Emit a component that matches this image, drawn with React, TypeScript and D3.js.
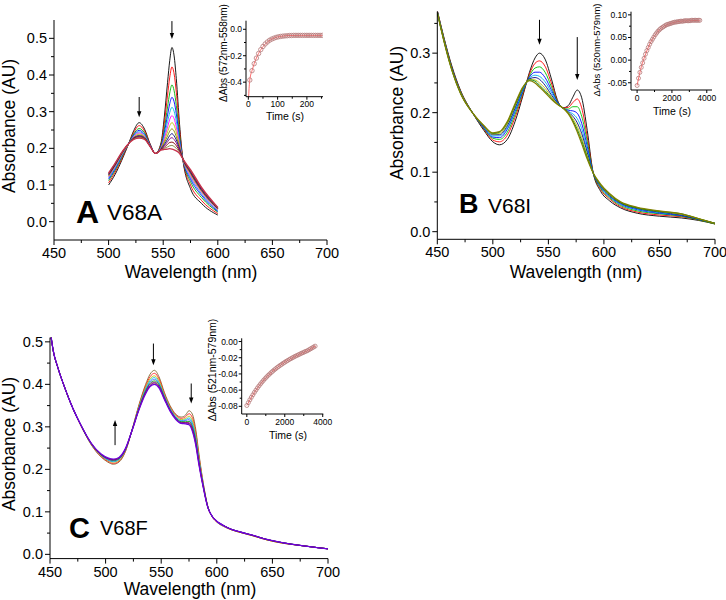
import React from "react";
import * as d3 from "d3";

// ---------------- DATA ----------------
// Panel A (V68A)
const WAVELENGTH_A = [500, 506, 512, 518, 523, 528, 533, 538, 543, 548, 551, 554, 556, 558, 560, 562, 565, 568, 575, 585, 600];
const SPECTRA_A = [
  [0.100, 0.129, 0.167, 0.210, 0.248, 0.270, 0.252, 0.212, 0.186, 0.215, 0.285, 0.380, 0.440, 0.475, 0.452, 0.390, 0.265, 0.170, 0.090, 0.050, 0.018],
  [0.106, 0.135, 0.171, 0.210, 0.243, 0.262, 0.247, 0.211, 0.186, 0.211, 0.268, 0.345, 0.394, 0.422, 0.403, 0.353, 0.250, 0.170, 0.100, 0.058, 0.022],
  [0.112, 0.140, 0.175, 0.211, 0.239, 0.254, 0.242, 0.209, 0.186, 0.208, 0.252, 0.313, 0.351, 0.373, 0.357, 0.317, 0.236, 0.170, 0.109, 0.066, 0.026],
  [0.116, 0.144, 0.178, 0.211, 0.236, 0.249, 0.238, 0.209, 0.186, 0.205, 0.242, 0.291, 0.322, 0.339, 0.327, 0.294, 0.226, 0.170, 0.116, 0.072, 0.028],
  [0.120, 0.147, 0.180, 0.211, 0.234, 0.245, 0.236, 0.208, 0.186, 0.203, 0.233, 0.273, 0.298, 0.312, 0.301, 0.274, 0.218, 0.170, 0.121, 0.076, 0.030],
  [0.122, 0.150, 0.182, 0.211, 0.232, 0.242, 0.233, 0.207, 0.186, 0.202, 0.226, 0.258, 0.279, 0.289, 0.281, 0.258, 0.212, 0.170, 0.125, 0.080, 0.032],
  [0.124, 0.152, 0.183, 0.211, 0.230, 0.239, 0.231, 0.207, 0.186, 0.200, 0.220, 0.245, 0.262, 0.270, 0.263, 0.244, 0.207, 0.170, 0.129, 0.083, 0.034],
  [0.126, 0.154, 0.185, 0.212, 0.229, 0.236, 0.230, 0.206, 0.186, 0.199, 0.215, 0.234, 0.247, 0.253, 0.247, 0.232, 0.202, 0.171, 0.132, 0.085, 0.035],
  [0.128, 0.155, 0.186, 0.212, 0.228, 0.234, 0.228, 0.206, 0.186, 0.198, 0.210, 0.225, 0.235, 0.240, 0.234, 0.223, 0.198, 0.171, 0.134, 0.087, 0.036],
  [0.129, 0.157, 0.187, 0.212, 0.227, 0.233, 0.227, 0.206, 0.186, 0.197, 0.207, 0.218, 0.226, 0.229, 0.224, 0.215, 0.195, 0.171, 0.136, 0.089, 0.037],
  [0.131, 0.158, 0.188, 0.212, 0.226, 0.231, 0.226, 0.205, 0.186, 0.196, 0.203, 0.211, 0.216, 0.217, 0.214, 0.207, 0.192, 0.171, 0.138, 0.091, 0.038],
  [0.132, 0.159, 0.188, 0.212, 0.225, 0.230, 0.225, 0.205, 0.186, 0.196, 0.200, 0.204, 0.207, 0.208, 0.205, 0.200, 0.189, 0.171, 0.140, 0.093, 0.038],
  [0.133, 0.160, 0.189, 0.212, 0.224, 0.228, 0.224, 0.205, 0.186, 0.195, 0.197, 0.198, 0.199, 0.198, 0.196, 0.193, 0.186, 0.171, 0.142, 0.094, 0.039],
];
const COLORS_A = ["#000000", "#ff0000", "#00b000", "#0000ff", "#00c0e0", "#ff00ff", "#c0c000", "#808000", "#000080", "#800080", "#800000", "#808040", "#c8324e"];

// Panel B (V68I)
const WAVELENGTH_B = [450, 456, 463, 471, 482, 492, 500, 506, 513, 520, 527, 533, 538, 542, 547, 553, 558, 563, 568, 572, 576, 580, 585, 590, 597, 605, 615, 630, 650, 670, 685, 700];
const SPECTRA_B = [
  [0.372, 0.326, 0.279, 0.237, 0.199, 0.170, 0.151, 0.146, 0.155, 0.185, 0.228, 0.268, 0.292, 0.300, 0.290, 0.255, 0.222, 0.208, 0.212, 0.226, 0.238, 0.225, 0.170, 0.102, 0.068, 0.052, 0.040, 0.031, 0.026, 0.023, 0.019, 0.013],
  [0.371, 0.325, 0.277, 0.236, 0.199, 0.172, 0.154, 0.151, 0.162, 0.192, 0.231, 0.265, 0.283, 0.287, 0.278, 0.248, 0.220, 0.208, 0.209, 0.217, 0.223, 0.208, 0.159, 0.102, 0.071, 0.055, 0.042, 0.033, 0.028, 0.025, 0.020, 0.013],
  [0.370, 0.324, 0.276, 0.235, 0.199, 0.173, 0.157, 0.155, 0.167, 0.197, 0.234, 0.262, 0.275, 0.277, 0.268, 0.242, 0.219, 0.208, 0.206, 0.210, 0.210, 0.194, 0.151, 0.101, 0.073, 0.057, 0.044, 0.035, 0.030, 0.026, 0.020, 0.013],
  [0.370, 0.323, 0.275, 0.234, 0.199, 0.174, 0.159, 0.158, 0.172, 0.202, 0.236, 0.260, 0.268, 0.268, 0.259, 0.237, 0.218, 0.208, 0.204, 0.203, 0.199, 0.182, 0.143, 0.101, 0.075, 0.059, 0.046, 0.037, 0.031, 0.027, 0.021, 0.014],
  [0.369, 0.322, 0.274, 0.234, 0.199, 0.175, 0.161, 0.161, 0.175, 0.205, 0.238, 0.258, 0.263, 0.261, 0.252, 0.233, 0.217, 0.208, 0.202, 0.198, 0.190, 0.173, 0.137, 0.101, 0.076, 0.060, 0.047, 0.038, 0.032, 0.028, 0.021, 0.014],
  [0.369, 0.321, 0.274, 0.233, 0.199, 0.176, 0.163, 0.163, 0.178, 0.208, 0.240, 0.257, 0.259, 0.256, 0.246, 0.229, 0.216, 0.208, 0.201, 0.194, 0.183, 0.165, 0.133, 0.100, 0.077, 0.061, 0.048, 0.039, 0.033, 0.028, 0.021, 0.014],
  [0.369, 0.321, 0.273, 0.233, 0.199, 0.177, 0.164, 0.165, 0.181, 0.211, 0.241, 0.256, 0.255, 0.250, 0.241, 0.226, 0.215, 0.208, 0.200, 0.190, 0.177, 0.158, 0.128, 0.100, 0.078, 0.062, 0.049, 0.040, 0.034, 0.029, 0.022, 0.014],
  [0.368, 0.320, 0.272, 0.232, 0.199, 0.178, 0.165, 0.167, 0.183, 0.213, 0.242, 0.255, 0.253, 0.246, 0.237, 0.224, 0.214, 0.208, 0.199, 0.187, 0.172, 0.153, 0.125, 0.100, 0.079, 0.063, 0.049, 0.040, 0.034, 0.030, 0.022, 0.014],
  [0.368, 0.320, 0.272, 0.232, 0.199, 0.178, 0.166, 0.168, 0.185, 0.215, 0.243, 0.254, 0.250, 0.243, 0.234, 0.222, 0.214, 0.208, 0.198, 0.185, 0.168, 0.148, 0.122, 0.100, 0.080, 0.064, 0.050, 0.041, 0.035, 0.030, 0.022, 0.014],
];
const COLORS_B = ["#000000", "#ff0000", "#00c000", "#0000ff", "#00b0f0", "#000080", "#c0c000", "#008000", "#808000"];

// Panel C (V68F)
const WAVELENGTH_C = [450, 453, 457, 463, 470, 478, 487, 496, 502, 507, 512, 518, 524, 530, 536, 540, 544, 548, 553, 558, 563, 568, 572, 575, 578, 581, 584, 588, 592, 596, 600, 606, 613, 622, 632, 645, 660, 675, 690, 700];
const SPECTRA_C = [
  [0.530, 0.478, 0.440, 0.394, 0.347, 0.302, 0.258, 0.229, 0.217, 0.212, 0.217, 0.243, 0.295, 0.352, 0.400, 0.424, 0.433, 0.418, 0.380, 0.350, 0.330, 0.323, 0.328, 0.338, 0.330, 0.295, 0.235, 0.165, 0.112, 0.088, 0.076, 0.066, 0.058, 0.051, 0.044, 0.034, 0.026, 0.021, 0.016, 0.013],
  [0.530, 0.478, 0.440, 0.394, 0.347, 0.302, 0.259, 0.230, 0.219, 0.214, 0.219, 0.244, 0.295, 0.350, 0.396, 0.418, 0.426, 0.413, 0.377, 0.347, 0.328, 0.320, 0.324, 0.331, 0.322, 0.288, 0.230, 0.163, 0.112, 0.088, 0.076, 0.066, 0.058, 0.051, 0.044, 0.034, 0.026, 0.021, 0.016, 0.013],
  [0.530, 0.478, 0.440, 0.394, 0.347, 0.302, 0.260, 0.232, 0.221, 0.217, 0.221, 0.246, 0.294, 0.347, 0.392, 0.413, 0.420, 0.408, 0.374, 0.345, 0.325, 0.317, 0.320, 0.325, 0.315, 0.281, 0.226, 0.161, 0.111, 0.088, 0.077, 0.067, 0.058, 0.051, 0.044, 0.034, 0.026, 0.021, 0.016, 0.013],
  [0.530, 0.478, 0.440, 0.394, 0.347, 0.303, 0.260, 0.233, 0.222, 0.218, 0.223, 0.247, 0.294, 0.346, 0.389, 0.409, 0.416, 0.404, 0.372, 0.343, 0.324, 0.315, 0.317, 0.321, 0.309, 0.276, 0.222, 0.160, 0.111, 0.089, 0.077, 0.067, 0.059, 0.052, 0.045, 0.035, 0.027, 0.021, 0.016, 0.013],
  [0.530, 0.478, 0.440, 0.394, 0.347, 0.303, 0.261, 0.233, 0.223, 0.220, 0.224, 0.247, 0.294, 0.344, 0.386, 0.405, 0.412, 0.401, 0.370, 0.342, 0.322, 0.313, 0.315, 0.317, 0.304, 0.271, 0.219, 0.159, 0.111, 0.089, 0.077, 0.067, 0.059, 0.052, 0.045, 0.035, 0.027, 0.021, 0.016, 0.013],
  [0.530, 0.478, 0.440, 0.394, 0.347, 0.303, 0.261, 0.234, 0.225, 0.221, 0.225, 0.248, 0.294, 0.343, 0.384, 0.402, 0.408, 0.399, 0.368, 0.340, 0.321, 0.312, 0.312, 0.313, 0.300, 0.267, 0.216, 0.158, 0.111, 0.089, 0.078, 0.068, 0.059, 0.052, 0.045, 0.035, 0.027, 0.021, 0.016, 0.013],
  [0.530, 0.478, 0.440, 0.394, 0.347, 0.303, 0.261, 0.235, 0.225, 0.222, 0.226, 0.249, 0.293, 0.342, 0.382, 0.400, 0.405, 0.396, 0.367, 0.339, 0.320, 0.310, 0.310, 0.310, 0.296, 0.264, 0.214, 0.157, 0.110, 0.089, 0.078, 0.068, 0.059, 0.052, 0.045, 0.035, 0.027, 0.021, 0.016, 0.013],
  [0.530, 0.478, 0.440, 0.394, 0.347, 0.303, 0.262, 0.235, 0.226, 0.223, 0.227, 0.249, 0.293, 0.341, 0.380, 0.397, 0.403, 0.394, 0.365, 0.338, 0.319, 0.309, 0.309, 0.308, 0.293, 0.261, 0.212, 0.156, 0.110, 0.089, 0.078, 0.068, 0.059, 0.052, 0.045, 0.035, 0.027, 0.021, 0.016, 0.013],
  [0.530, 0.478, 0.440, 0.394, 0.347, 0.303, 0.262, 0.236, 0.227, 0.224, 0.228, 0.250, 0.293, 0.340, 0.378, 0.395, 0.400, 0.392, 0.364, 0.337, 0.318, 0.308, 0.307, 0.305, 0.290, 0.258, 0.210, 0.155, 0.110, 0.089, 0.078, 0.068, 0.059, 0.052, 0.045, 0.035, 0.027, 0.021, 0.016, 0.013],
];
const COLORS_C = ["#806a30", "#ff2020", "#c0c000", "#00c0e0", "#4060ff", "#00a000", "#a000a0", "#600030", "#7000e0"];

// Arrows: [wavelength, from, to]
const ARROWS_A = [[528, 0.340, 0.285], [558, 0.547, 0.498]];
const ARROWS_B = [[542, 0.356, 0.314], [576, 0.327, 0.255]];
const ARROWS_C = [[543, 0.496, 0.445], [577, 0.402, 0.355], [508.5, 0.257, 0.316]];

// Insets: kinetics
const TIME_A = [5, 12.5, 20, 27.5, 35, 42.5, 50, 57.5, 65, 72.5, 80, 87.5, 95, 102.5, 110, 117.5, 125, 132.5, 140, 147.5, 155, 162.5, 170, 177.5, 185, 192.5, 200, 207.5, 215, 222.5, 230, 237.5, 245, 252.5];
const DABS_A = [-0.384, -0.313, -0.260, -0.218, -0.183, -0.154, -0.130, -0.111, -0.096, -0.083, -0.074, -0.067, -0.061, -0.057, -0.054, -0.052, -0.050, -0.049, -0.047, -0.047, -0.046, -0.046, -0.046, -0.046, -0.046, -0.046, -0.046, -0.046, -0.046, -0.046, -0.046, -0.046, -0.046, -0.046];
const FIT_TIME_A = [1, 3, 5, 8, 12.5, 20, 30, 40, 55, 70, 90, 110, 140, 180, 253];
const FIT_A = [-0.51, -0.43, -0.384, -0.345, -0.313, -0.260, -0.205, -0.163, -0.119, -0.088, -0.064, -0.054, -0.047, -0.046, -0.046];

const TIME_B = [0, 80, 160, 240, 320, 400, 480, 560, 640, 720, 800, 880, 960, 1040, 1120, 1200, 1280, 1360, 1440, 1520, 1600, 1680, 1760, 1840, 1920, 2000, 2080, 2160, 2240, 2320, 2400, 2480, 2560, 2640, 2720, 2800, 2880, 2960, 3040, 3120, 3200, 3280, 3360, 3440, 3520, 3600];
const DABS_B = [-0.056, -0.040, -0.027, -0.016, -0.006, 0.004, 0.013, 0.021, 0.028, 0.035, 0.041, 0.046, 0.051, 0.056, 0.060, 0.064, 0.067, 0.070, 0.072, 0.074, 0.076, 0.078, 0.079, 0.080, 0.081, 0.082, 0.083, 0.084, 0.084, 0.085, 0.085, 0.086, 0.086, 0.086, 0.087, 0.087, 0.087, 0.087, 0.087, 0.088, 0.088, 0.088, 0.088, 0.088, 0.088, 0.088];
const FIT_TIME_B = [0, 200, 400, 600, 800, 1000, 1300, 1600, 2000, 2500, 3000, 3600];
const FIT_B = [-0.056, -0.021, 0.004, 0.0245, 0.041, 0.0535, 0.0678, 0.076, 0.082, 0.086, 0.087, 0.088];

const TIME_C = [0, 80, 160, 240, 320, 400, 480, 560, 640, 720, 800, 880, 960, 1040, 1120, 1200, 1280, 1360, 1440, 1520, 1600, 1680, 1760, 1840, 1920, 2000, 2080, 2160, 2240, 2320, 2400, 2480, 2560, 2640, 2720, 2800, 2880, 2960, 3040, 3120, 3200, 3280, 3360, 3440, 3520, 3600];
const DABS_C = [-0.079, -0.0755, -0.072, -0.0688, -0.0658, -0.0628, -0.060, -0.0573, -0.0548, -0.0524, -0.0501, -0.0479, -0.0458, -0.0438, -0.0419, -0.0401, -0.0384, -0.0367, -0.0351, -0.0336, -0.0321, -0.0307, -0.0294, -0.0281, -0.0268, -0.0256, -0.0244, -0.0233, -0.0222, -0.0211, -0.0201, -0.0191, -0.0181, -0.0172, -0.0163, -0.0154, -0.0145, -0.0137, -0.0128, -0.012, -0.0112, -0.0101, -0.009, -0.0079, -0.0068, -0.0057];
const FIT_TIME_C = [0, 400, 800, 1200, 1600, 2000, 2400, 2800, 3200, 3600];
const FIT_C = [-0.079, -0.0628, -0.0501, -0.0401, -0.0321, -0.0256, -0.0201, -0.0154, -0.0112, -0.0057];

// Ticks
const WL_TICKS = [450, 500, 550, 600, 650, 700];
const WL_MINOR = [475, 525, 575, 625, 675];
const ABS_TICKS_A = [0, 0.1, 0.2, 0.3, 0.4, 0.5];
const ABS_MINOR_A = [0.05, 0.15, 0.25, 0.35, 0.45];
const ABS_TICKS_B = [0, 0.1, 0.2, 0.3];
const ABS_MINOR_B = [0.05, 0.15, 0.25, 0.35];
const ABS_TICKS_C = [0, 0.1, 0.2, 0.3, 0.4, 0.5];
const ABS_MINOR_C = [0.05, 0.15, 0.25, 0.35, 0.45];
const T_TICKS_A = [0, 100, 200];
const T_MINOR_A = [50, 150, 250];
const D_TICKS_A = [0, -0.2, -0.4];
const D_MINOR_A = [-0.1, -0.3, -0.5];
const T_TICKS_BC = [0, 2000, 4000];
const T_MINOR_BC = [1000, 3000];
const D_TICKS_B = [0.1, 0.05, 0, -0.05];
const D_MINOR_B = [0.075, 0.025, -0.025];
const D_TICKS_C = [0, -0.02, -0.04, -0.06, -0.08];
const D_MINOR_C = [-0.01, -0.03, -0.05, -0.07];

// ---------------- RENDERING ----------------
const FONT = "Arial, 'Liberation Sans', Helvetica, sans-serif";
type S = d3.ScaleLinear<number, number>;

function fmt(v: number, d: number) {
  if (Math.abs(v) < 1e-9) return (0).toFixed(d);
  return v.toFixed(d);
}

interface AxesProps {
  x: S; y: S;
  xTicks: number[]; xMinor: number[]; yTicks: number[]; yMinor: number[];
  xDec: number; yDec: number; fs: number; major: number; minor: number;
  xGap: number; yGap: number;
}

function Axes(p: AxesProps) {
  const [xa, xb] = p.x.range();
  const [yb, ya] = p.y.range();
  return (
    <g>
      <g stroke="#000" strokeWidth={1} fill="none">
        <line x1={xa} x2={xb} y1={yb} y2={yb} />
        <line x1={xa} x2={xa} y1={yb} y2={ya} />
        {p.xTicks.map((t) => (
          <line key={"xt" + t} x1={p.x(t)} x2={p.x(t)} y1={yb} y2={yb + p.major} />
        ))}
        {p.xMinor.map((t) => (
          <line key={"xm" + t} x1={p.x(t)} x2={p.x(t)} y1={yb} y2={yb + p.minor} />
        ))}
        {p.yTicks.map((t) => (
          <line key={"yt" + t} x1={xa - p.major} x2={xa} y1={p.y(t)} y2={p.y(t)} />
        ))}
        {p.yMinor.map((t) => (
          <line key={"ym" + t} x1={xa - p.minor} x2={xa} y1={p.y(t)} y2={p.y(t)} />
        ))}
      </g>
      <g fontFamily={FONT} fontSize={p.fs} fill="#000">
        {p.xTicks.map((t) => (
          <text key={"xl" + t} x={p.x(t)} y={yb + p.xGap} textAnchor="middle">
            {fmt(t, p.xDec)}
          </text>
        ))}
        {p.yTicks.map((t) => (
          <text key={"yl" + t} x={xa - p.yGap} y={p.y(t)} dy="0.35em" textAnchor="end">
            {fmt(t, p.yDec)}
          </text>
        ))}
      </g>
    </g>
  );
}

function Spectra({ id, x, y, wl, rows, colors }: { id: string; x: S; y: S; wl: number[]; rows: number[][]; colors: string[] }) {
  const [xa, xb] = x.range();
  const [yb, ya] = y.range();
  const line = d3
    .line<number>()
    .x((_, i) => x(wl[i]))
    .y((d) => y(d))
    .curve(d3.curveMonotoneX);
  return (
    <g>
      <clipPath id={id}>
        <rect x={xa} y={ya} width={xb - xa} height={yb - ya} />
      </clipPath>
      <g clipPath={`url(#${id})`} fill="none">
        {rows.map((r, i) => (
          <path key={i} d={line(r) || ""} stroke={colors[i % colors.length]} strokeWidth={i === rows.length - 1 ? 1.3 : 0.9} />
        ))}
      </g>
    </g>
  );
}

function Arrows({ x, y, arrows }: { x: S; y: S; arrows: number[][] }) {
  return (
    <g>
      {arrows.map((a, i) => {
        const px = x(a[0]);
        const y1 = y(a[1]);
        const y2 = y(a[2]);
        const dir = y2 > y1 ? 1 : -1;
        const hl = 6;
        const hw = 2.2;
        return (
          <g key={i}>
            <line x1={px} x2={px} y1={y1} y2={y2 - dir * hl * 0.6} stroke="#000" strokeWidth={1} />
            <path d={`M${px},${y2} L${px - hw},${y2 - dir * hl} L${px + hw},${y2 - dir * hl} Z`} fill="#000" />
          </g>
        );
      })}
    </g>
  );
}

function Kinetics({ id, x, y, t, v, ft, fv, r }: { id: string; x: S; y: S; t: number[]; v: number[]; ft: number[]; fv: number[]; r: number }) {
  const [xa, xb] = x.range();
  const [yb, ya] = y.range();
  const line = d3
    .line<number>()
    .x((_, i) => x(ft[i]))
    .y((d) => y(d))
    .curve(d3.curveMonotoneX);
  return (
    <g>
      <clipPath id={id}>
        <rect x={xa} y={ya} width={xb - xa} height={yb - ya} />
      </clipPath>
      <g clipPath={`url(#${id})`}>
        <path d={line(fv) || ""} fill="none" stroke="#ff5a5a" strokeWidth={0.9} />
        {t.map((tt, i) => (
          <circle key={i} cx={x(tt)} cy={y(v[i])} r={r} fill="none" stroke="#b57878" strokeWidth={0.8} />
        ))}
      </g>
    </g>
  );
}

export default function App() {
  const xA = d3.scaleLinear().domain([450, 700]).range([54, 327]);
  const yA = d3.scaleLinear().domain([-0.05, 0.55]).range([240, 20]);
  const xB = d3.scaleLinear().domain([450, 700]).range([437.3, 715]);
  const yB = d3.scaleLinear().domain([-0.0128, 0.37]).range([239.3, 11.5]);
  const xC = d3.scaleLinear().domain([450, 700]).range([50, 328]);
  const yC = d3.scaleLinear().domain([-0.01, 0.51]).range([558.6, 337.6]);

  const ixA = d3.scaleLinear().domain([-8, 255]).range([246, 323]);
  const iyA = d3.scaleLinear().domain([-0.51, 0.065]).range([96.7, 20.7]);
  const ixB = d3.scaleLinear().domain([-350, 4300]).range([631, 712]);
  const iyB = d3.scaleLinear().domain([-0.066, 0.107]).range([90, 11.7]);
  const ixC = d3.scaleLinear().domain([-270, 4030]).range([241.7, 323.3]);
  const iyC = d3.scaleLinear().domain([-0.0895, 0.004]).range([414, 338.3]);

  const mainAxis = { xTicks: WL_TICKS, xMinor: WL_MINOR, xDec: 0, yDec: 1, fs: 14.5, major: 5, minor: 3, xGap: 18, yGap: 7 };
  const insetAxis = { fs: 8.5, major: 3, minor: 2, xGap: 10.5, yGap: 4, xDec: 0 };

  const titleStyle = { fontFamily: FONT, fill: "#000" } as const;

  return (
    <svg width={726} height={600} style={{ position: "absolute", left: 0, top: 0, background: "#fff" }}>
      <rect x={0} y={0} width={726} height={600} fill="#fff" />

      {/* Panel A */}
      <Spectra id="clipA" x={xA} y={yA} wl={WAVELENGTH_A} rows={SPECTRA_A} colors={COLORS_A} />
      <Axes x={xA} y={yA} yTicks={ABS_TICKS_A} yMinor={ABS_MINOR_A} {...mainAxis} />
      <Arrows x={xA} y={yA} arrows={ARROWS_A} />
      <text {...titleStyle} fontSize={17.5} textAnchor="middle" transform="translate(15,126) rotate(-90)">Absorbance (AU)</text>
      <text {...titleStyle} fontSize={17.5} textAnchor="middle" x={191} y={278}>Wavelength (nm)</text>
      <text {...titleStyle} fontSize={32} fontWeight="bold" x={76} y={222.5}>A</text>
      <text {...titleStyle} fontSize={22.5} x={107} y={220}>V68A</text>

      <Kinetics id="clipIA" x={ixA} y={iyA} t={TIME_A} v={DABS_A} ft={FIT_TIME_A} fv={FIT_A} r={2.2} />
      <Axes x={ixA} y={iyA} xTicks={T_TICKS_A} xMinor={T_MINOR_A} yTicks={D_TICKS_A} yMinor={D_MINOR_A} yDec={1} {...insetAxis} />
      <text {...titleStyle} fontSize={10} textAnchor="middle" transform="translate(227,53) rotate(-90)">ΔAbs (572nm-558nm)</text>
      <text {...titleStyle} fontSize={10.5} textAnchor="middle" x={285} y={120}>Time (s)</text>

      {/* Panel B */}
      <Spectra id="clipB" x={xB} y={yB} wl={WAVELENGTH_B} rows={SPECTRA_B} colors={COLORS_B} />
      <Axes x={xB} y={yB} yTicks={ABS_TICKS_B} yMinor={ABS_MINOR_B} {...mainAxis} />
      <Arrows x={xB} y={yB} arrows={ARROWS_B} />
      <text {...titleStyle} fontSize={17.5} textAnchor="middle" transform="translate(403,113) rotate(-90)">Absorbance (AU)</text>
      <text {...titleStyle} fontSize={17.5} textAnchor="middle" x={576} y={278}>Wavelength (nm)</text>
      <text {...titleStyle} fontSize={27} fontWeight="bold" x={459} y={213}>B</text>
      <text {...titleStyle} fontSize={21} x={488} y={213}>V68I</text>

      <Kinetics id="clipIB" x={ixB} y={iyB} t={TIME_B} v={DABS_B} ft={FIT_TIME_B} fv={FIT_B} r={2} />
      <Axes x={ixB} y={iyB} xTicks={T_TICKS_BC} xMinor={T_MINOR_BC} yTicks={D_TICKS_B} yMinor={D_MINOR_B} yDec={2} {...insetAxis} />
      <text {...titleStyle} fontSize={9.5} textAnchor="middle" transform="translate(600,50) rotate(-90)">ΔAbs (520nm-579nm)</text>
      <text {...titleStyle} fontSize={10.5} textAnchor="middle" x={672} y={115}>Time (s)</text>

      {/* Panel C */}
      <Spectra id="clipC" x={xC} y={yC} wl={WAVELENGTH_C} rows={SPECTRA_C} colors={COLORS_C} />
      <Axes x={xC} y={yC} yTicks={ABS_TICKS_C} yMinor={ABS_MINOR_C} {...mainAxis} />
      <Arrows x={xC} y={yC} arrows={ARROWS_C} />
      <text {...titleStyle} fontSize={17.5} textAnchor="middle" transform="translate(15,444) rotate(-90)">Absorbance (AU)</text>
      <text {...titleStyle} fontSize={17.5} textAnchor="middle" x={190} y={595}>Wavelength (nm)</text>
      <text {...titleStyle} fontSize={29} fontWeight="bold" x={69} y={538}>C</text>
      <text {...titleStyle} fontSize={20} x={100} y={535}>V68F</text>

      <Kinetics id="clipIC" x={ixC} y={iyC} t={TIME_C} v={DABS_C} ft={FIT_TIME_C} fv={FIT_C} r={2} />
      <Axes x={ixC} y={iyC} xTicks={T_TICKS_BC} xMinor={T_MINOR_BC} yTicks={D_TICKS_C} yMinor={D_MINOR_C} yDec={2} {...insetAxis} />
      <text {...titleStyle} fontSize={10.5} textAnchor="middle" transform="translate(216,370) rotate(-90)">ΔAbs (521nm-579nm)</text>
      <text {...titleStyle} fontSize={10.5} textAnchor="middle" x={288} y={439}>Time (s)</text>
    </svg>
  );
}
